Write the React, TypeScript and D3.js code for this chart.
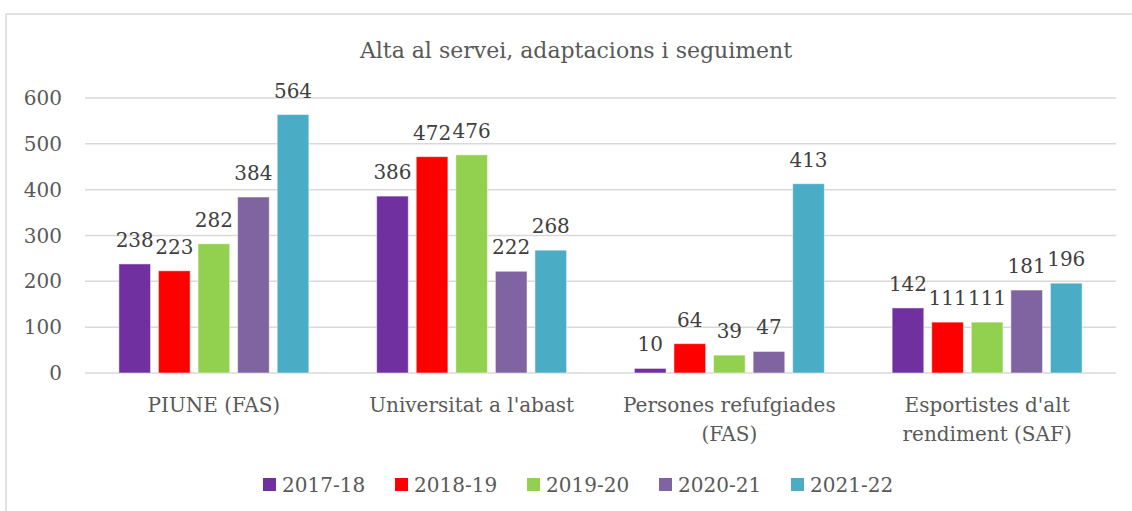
import React from 'react';
import * as d3 from 'd3';

const categories = [
  ['PIUNE (FAS)'],
  ["Universitat a l'abast"],
  ['Persones refufgiades', '(FAS)'],
  ["Esportistes d'alt", 'rendiment (SAF)'],
];
const seriesNames = ['2017-18', '2018-19', '2019-20', '2020-21', '2021-22'];
const seriesColors = ['#7030A0', '#FF0000', '#92D050', '#8064A2', '#4BACC6'];
const values = [
  [238, 386, 10, 142],
  [223, 472, 64, 111],
  [282, 476, 39, 111],
  [384, 222, 47, 181],
  [564, 268, 413, 196],
];
const yTicks = [0, 100, 200, 300, 400, 500, 600];

const W = 1132;
const H = 511;
const font = '"DejaVu Serif", serif';
const textColor = '#595959';

export default function App() {
  const left = 85;
  const right = 1116;
  const y = d3.scaleLinear().domain([0, 600]).range([373, 98]);
  const x0 = d3
    .scaleBand<number>()
    .domain(d3.range(categories.length))
    .range([left, right])
    .paddingInner(0.263)
    .paddingOuter(0.1315);
  const x1 = d3
    .scaleBand<number>()
    .domain(d3.range(seriesNames.length))
    .range([0, x0.bandwidth()])
    .paddingInner(0.2);

  return (
    <svg width={W} height={H} style={{ position: 'absolute', left: 0, top: 0 }}>
      <rect x={6} y={14} width={W} height={H} fill="#fff" stroke="#d9d9d9" strokeWidth={1.5} />
      <text x={576} y={58} textAnchor="middle" fontFamily={font} fontSize={22} fill={textColor}>
        Alta al servei, adaptacions i seguiment
      </text>
      {yTicks.map((t) => (
        <g key={t}>
          <line x1={left} x2={right} y1={y(t)} y2={y(t)} stroke="#d9d9d9" strokeWidth={1.5} />
          <text x={62} y={y(t) + 7} textAnchor="end" fontFamily={font} fontSize={20} fill={textColor}>
            {t}
          </text>
        </g>
      ))}
      {categories.map((lines, ci) => (
        <g key={ci} transform={`translate(${x0(ci)},0)`}>
          {seriesNames.map((s, si) => {
            const v = values[si][ci];
            const bx = x1(si)!;
            return (
              <g key={s}>
                <rect
                  x={bx}
                  y={y(v)}
                  width={x1.bandwidth()}
                  height={y(0) - y(v)}
                  fill={seriesColors[si]}
                  stroke="#fff"
                  strokeOpacity={0.5}
                  strokeWidth={1}
                />
                <text
                  x={bx + x1.bandwidth() / 2}
                  y={y(v) - 17}
                  textAnchor="middle"
                  fontFamily={font}
                  fontSize={20}
                  fill="#404040"
                >
                  {v}
                </text>
              </g>
            );
          })}
          {lines.map((l, li) => (
            <text
              key={li}
              x={x0.bandwidth() / 2}
              y={412 + li * 29}
              textAnchor="middle"
              fontFamily={font}
              fontSize={20}
              fill={textColor}
            >
              {l}
            </text>
          ))}
        </g>
      ))}
      {seriesNames.map((s, si) => (
        <g key={s} transform={`translate(${263 + si * 132},478)`}>
          <rect width={13} height={13} fill={seriesColors[si]} />
          <text x={19} y={14} fontFamily={font} fontSize={20} fill={textColor}>
            {s}
          </text>
        </g>
      ))}
    </svg>
  );
}
